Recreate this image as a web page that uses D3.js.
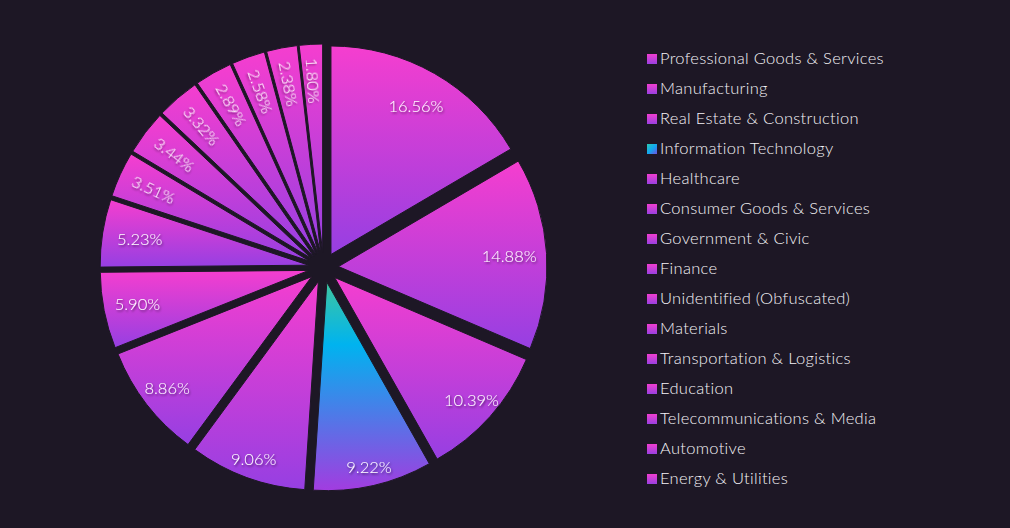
<!DOCTYPE html>
<html>
<head>
<meta charset="utf-8">
<script src="https://cdn.jsdelivr.net/npm/d3@7"></script>
<style>
  html, body { margin: 0; padding: 0; background: #1d1725; }
  svg { display: block; }
</style>
</head>
<body>
<svg id="chart" width="1010" height="528"></svg>
<script>
const categories = [
  "Professional Goods & Services",
  "Manufacturing",
  "Real Estate & Construction",
  "Information Technology",
  "Healthcare",
  "Consumer Goods & Services",
  "Government & Civic",
  "Finance",
  "Unidentified (Obfuscated)",
  "Materials",
  "Transportation & Logistics",
  "Education",
  "Telecommunications & Media",
  "Automotive",
  "Energy & Utilities"
];
const values = [16.56, 14.88, 10.39, 9.22, 9.06, 8.86, 5.90, 5.23, 3.51, 3.44, 3.32, 2.89, 2.58, 2.38, 1.80];
const highlighted = ["Information Technology"];

const W = 1010, H = 528;
const cx = 323.5, cy = 267.5, R = 208.5, explode = 15;
const bg = "#1d1725";

const svg = d3.select("#chart");
svg.append("rect").attr("width", W).attr("height", H).attr("fill", bg);

const defs = svg.append("defs");
const gPink = defs.append("linearGradient").attr("id", "gPink")
  .attr("x1", 0).attr("y1", 0).attr("x2", 0).attr("y2", 1);
gPink.append("stop").attr("offset", "0%").attr("stop-color", "#f53ecf");
gPink.append("stop").attr("offset", "100%").attr("stop-color", "#963fe2");
const gCyan = defs.append("linearGradient").attr("id", "gCyan")
  .attr("x1", 0).attr("y1", 0).attr("x2", 0).attr("y2", 1);
gCyan.append("stop").attr("offset", "0%").attr("stop-color", "#3ec6a0");
gCyan.append("stop").attr("offset", "30%").attr("stop-color", "#00b3ef");
gCyan.append("stop").attr("offset", "100%").attr("stop-color", "#a23ce0");
const gPinkL = defs.append("linearGradient").attr("id", "gPinkL")
  .attr("x1", 0).attr("y1", 0).attr("x2", 0).attr("y2", 1);
gPinkL.append("stop").attr("offset", "0%").attr("stop-color", "#f03ed0");
gPinkL.append("stop").attr("offset", "100%").attr("stop-color", "#9a40e0");
const gCyanL = defs.append("linearGradient").attr("id", "gCyanL")
  .attr("x1", 0).attr("y1", 0).attr("x2", 1).attr("y2", 1);
gCyanL.append("stop").attr("offset", "0%").attr("stop-color", "#2ec8b0");
gCyanL.append("stop").attr("offset", "50%").attr("stop-color", "#10a8f0");
gCyanL.append("stop").attr("offset", "100%").attr("stop-color", "#7050e0");

const shadow = defs.append("filter").attr("id", "tshadow")
  .attr("x", "-20%").attr("y", "-40%").attr("width", "140%").attr("height", "180%");
shadow.append("feDropShadow").attr("dx", 1).attr("dy", 1.5).attr("stdDeviation", 1)
  .attr("flood-color", "#000").attr("flood-opacity", 0.55);

const data = categories.map((c, i) => ({ name: c, value: values[i] }));
const pie = d3.pie().sort(null).value(d => d.value);
const arcs = pie(data);
const arc = d3.arc().innerRadius(0).outerRadius(R);

const pieG = svg.append("g").attr("transform", `translate(${cx},${cy})`);

const slices = pieG.selectAll("g.slice").data(arcs).enter().append("g")
  .attr("class", "slice")
  .attr("transform", d => {
    const m = (d.startAngle + d.endAngle) / 2;
    return `translate(${explode * Math.sin(m)},${-explode * Math.cos(m)})`;
  });

slices.append("path")
  .attr("d", arc)
  .attr("fill", d => highlighted.includes(d.data.name) ? "url(#gCyan)" : "url(#gPink)")
  .attr("stroke", bg)
  .attr("stroke-width", 1);

const fmt = v => v.toFixed(2) + "%";
pieG.selectAll("text.lbl").data(arcs).enter().append("text")
  .attr("class", "lbl")
  .attr("text-anchor", "middle")
  .attr("dominant-baseline", "central")
  .attr("font-family", "Lato, 'Open Sans', sans-serif")
  .attr("font-weight", 300)
  .attr("font-size", 16.5)
  .attr("fill", "#ffffff")
  .attr("filter", "url(#tshadow)")
  .attr("transform", d => {
    const m = (d.startAngle + d.endAngle) / 2;
    const small = d.data.value < 4;
    const r = small ? 187 : 186 + 19 * Math.max(0, -Math.cos(m));
    const x = r * Math.sin(m), y = -r * Math.cos(m);
    const deg = m * 180 / Math.PI;
    const rot = small ? (deg > 180 ? deg - 270 : deg - 90) : 0;
    return `translate(${x},${y}) rotate(${rot})`;
  })
  .text(d => fmt(d.data.value));

// Legend
const legend = svg.append("g").attr("transform", "translate(647,54)");
const rows = legend.selectAll("g.row").data(categories).enter().append("g")
  .attr("class", "row")
  .attr("transform", (d, i) => `translate(0,${i * 30})`);
rows.append("rect")
  .attr("width", 10).attr("height", 10)
  .attr("fill", d => highlighted.includes(d) ? "url(#gCyanL)" : "url(#gPinkL)");
rows.append("text")
  .attr("x", 13).attr("y", 4)
  .attr("dominant-baseline", "central")
  .attr("font-family", "Lato, 'Open Sans', sans-serif")
  .attr("font-weight", 300)
  .attr("font-size", 16.5)
  .attr("letter-spacing", 0.3)
  .attr("fill", "#f4f2f6")
  .text(d => d);
</script>
</body>
</html>
